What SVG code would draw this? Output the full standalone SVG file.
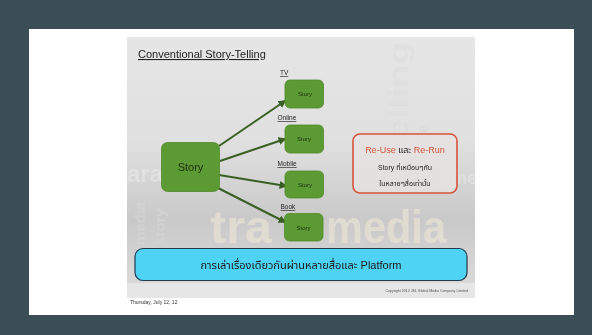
<svg xmlns="http://www.w3.org/2000/svg" width="592" height="335" viewBox="0 0 592 335">
<defs>
<style>
.t{font-family:"Liberation Sans","Noto Sans Thai","Noto Sans",sans-serif;}
.wc{font-family:"Liberation Sans",sans-serif;font-weight:bold;}
.small{fill:#5c9a33;stroke:#4f8a2a;stroke-width:0.8;}
.lbl{font-size:6.5px;fill:#222;text-decoration:underline;}
.st{font-size:6px;fill:#1d3010;text-anchor:middle;}
.conn{stroke:#3a5f24;stroke-width:2;fill:none;marker-end:url(#ah);}
</style>
<marker id="ah" viewBox="0 0 10 10" refX="8" refY="5" markerWidth="4" markerHeight="4" orient="auto" markerUnits="strokeWidth">
<path d="M0,0 L10,5 L0,10 z" fill="#3a5f24"/>
</marker>
<linearGradient id="slideg" x1="0" y1="0" x2="0" y2="1">
<stop offset="0" stop-color="#e6e6e6"/>
<stop offset="0.4" stop-color="#e0e0e0"/>
<stop offset="0.7" stop-color="#c9c9c9"/>
<stop offset="1" stop-color="#dcdcdc"/>
</linearGradient>
</defs>
<rect width="592" height="335" fill="#3c4e55"/>
<rect x="29" y="29" width="545" height="286" fill="#ffffff"/>
<g id="slide">
<rect x="127" y="37" width="348" height="261" fill="url(#slideg)"/>
<rect x="127" y="283" width="348" height="15" fill="#e6e6e6"/>
<g opacity="0.55">
<text class="wc" x="210" y="243" font-size="46" fill="#f2ead8" textLength="62" lengthAdjust="spacingAndGlyphs">tra</text>
<text class="wc" x="326" y="243" font-size="46" fill="#f2ead8" textLength="120" lengthAdjust="spacingAndGlyphs">media</text>
<text class="wc" x="127" y="182" font-size="24" fill="#ececec">ara</text>
<text class="wc" transform="translate(408,152) rotate(-90)" font-size="28" fill="#dcdcdc" textLength="110" lengthAdjust="spacingAndGlyphs">telling</text>
<text class="wc" transform="translate(428,152) rotate(-90)" font-size="16" fill="#d6d6d6">tive</text>
<text class="wc" x="440" y="184" font-size="18" fill="#e8e8e8">ome</text>
<text class="wc" transform="translate(145,245) rotate(-90)" font-size="15" fill="#d8d8d8">media</text>
<text class="wc" transform="translate(165,245) rotate(-90)" font-size="15" fill="#d8d8d8">story</text>
</g>
<text class="t" x="138" y="58" font-size="11" fill="#222" text-decoration="underline">Conventional Story-Telling</text>
</g>
<g id="connectors">
<line class="conn" x1="219" y1="146" x2="285" y2="101"/>
<line class="conn" x1="220" y1="161" x2="285" y2="139"/>
<line class="conn" x1="219" y1="175" x2="286" y2="186"/>
<line class="conn" x1="216" y1="187" x2="285" y2="222"/>
</g>
<g id="story-main">
<rect x="161.5" y="142.5" width="58" height="49" rx="6" fill="#5c9a33" stroke="#4f8a2a" stroke-width="0.8"/>
<text class="t" x="190.5" y="171" font-size="11" fill="#1d3010" text-anchor="middle">Story</text>
</g>
<g id="tv">
<text class="t lbl" x="280" y="75">TV</text>
<rect class="small" x="285" y="80" width="38.5" height="28" rx="5"/>
<text class="t st" x="305" y="96">Story</text>
</g>
<g id="online">
<text class="t lbl" x="277.5" y="120">Online</text>
<rect class="small" x="285" y="125" width="38.5" height="28" rx="5"/>
<text class="t st" x="304" y="141">Story</text>
</g>
<g id="mobile">
<text class="t lbl" x="277.5" y="166">Mobile</text>
<rect class="small" x="285" y="171" width="38.5" height="27" rx="5"/>
<text class="t st" x="305" y="187">Story</text>
</g>
<g id="book">
<text class="t lbl" x="280.5" y="209">Book</text>
<rect class="small" x="284.5" y="213.5" width="38.5" height="27.5" rx="5"/>
<text class="t st" x="303.5" y="229.5">Story</text>
</g>
<g id="note">
<rect x="353" y="134" width="104" height="59" rx="7" fill="#e6e2e0" fill-opacity="0.85" stroke="#d6543a" stroke-width="1.6"/>
<text class="t" x="405" y="153" font-size="9" text-anchor="middle" fill="#222"><tspan fill="#d6543a">Re-Use</tspan> และ <tspan fill="#d6543a">Re-Run</tspan></text>
<text class="t" x="405" y="170" font-size="7" text-anchor="middle" fill="#222">Story ที่เหมือนๆกัน</text>
<text class="t" x="405" y="186" font-size="7" text-anchor="middle" fill="#222">ในหลายๆสื่อเท่านั้น</text>
</g>
<g id="banner">
<rect x="135" y="248.5" width="332" height="32" rx="8" fill="#4fd3f5" stroke="#1e3a50" stroke-width="1.2"/>
<text class="t" x="301" y="269" font-size="11" text-anchor="middle" fill="#1a1a1a">การเล่าเรื่องเดียวกันผ่านหลายสื่อและ Platform</text>
</g>
<text class="t" x="468" y="292" font-size="3.6" text-anchor="end" fill="#555">Copyright 2012 JSL Global Media Company Limited</text>
<text class="t" x="130" y="304" font-size="5" fill="#333">Thursday, July 12, 12</text>
</svg>
